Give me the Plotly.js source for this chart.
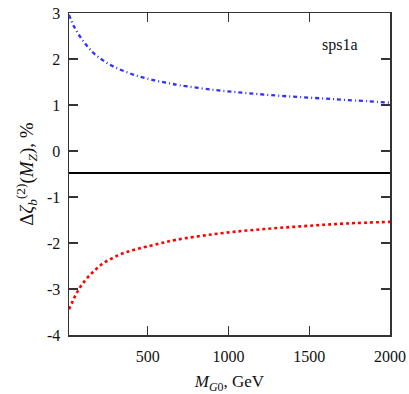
<!DOCTYPE html>
<html>
<head>
<meta charset="utf-8">
<script src="https://cdn.plot.ly/plotly-3.0.1.min.js"></script>
<style>html,body{margin:0;padding:0;background:#fff;}#plot{width:409px;height:394px;}</style>
</head>
<body>
<div id="plot"></div>
<script>
// Data
const blueX = [12, 41, 78, 120, 167, 223, 285, 357, 425, 491, 563, 636, 698, 904, 1111, 1317, 1524, 1731, 2000];
const blueY = [2.96, 2.72, 2.50, 2.30, 2.12, 1.97, 1.84, 1.73, 1.645, 1.58, 1.52, 1.47, 1.43, 1.33, 1.26, 1.20, 1.155, 1.11, 1.05];
const redX = [12, 33, 53, 78, 99, 130, 161, 198, 233, 275, 315, 357, 398, 446, 491, 574, 677, 904, 1111, 1317, 1524, 1731, 2000];
const redY = [-3.44, -3.28, -3.13, -2.98, -2.87, -2.74, -2.63, -2.51, -2.42, -2.34, -2.27, -2.21, -2.165, -2.12, -2.08, -2.01, -1.93, -1.81, -1.73, -1.67, -1.62, -1.575, -1.54];
const blackX = [12, 500, 1000, 1500, 2000];
const blackY = [-0.478, -0.478, -0.478, -0.478, -0.478];
const xTicks = [500, 1000, 1500, 2000];
const yTicks = [-4, -3, -2, -1, 0, 1, 2, 3];
const annotationText = "sps1a";

const serif = "Liberation Serif";

const traces = [
  {x: blueX, y: blueY, mode: 'lines', line: {color: '#3030ff', width: 2.3, dash: '4px,3px,1px,3px', shape: 'spline'}, hoverinfo: 'skip'},
  {x: redX, y: redY, mode: 'lines', line: {color: '#ff0000', width: 2.6, dash: '3px,3px', shape: 'spline'}, hoverinfo: 'skip'},
  {x: blackX, y: blackY, mode: 'lines', line: {color: '#000000', width: 2.2}, hoverinfo: 'skip'}
];

const axisCommon = {
  showgrid: false, zeroline: false, showline: true, mirror: 'ticks',
  linecolor: '#333', linewidth: 1.5, ticks: 'inside', ticklen: 9, tickwidth: 1.2, tickcolor: '#333',
  tickfont: {family: serif, size: 16, color: '#111'}
};

const layout = {
  width: 409, height: 394,
  margin: {l: 69, r: 19, t: 13, b: 59},
  paper_bgcolor: '#fff', plot_bgcolor: '#fff',
  showlegend: false,
  font: {family: serif, color: '#111'},
  xaxis: Object.assign({}, axisCommon, {
    range: [12, 2000], tickvals: xTicks, ticktext: xTicks.map(String), ticklabelstandoff: 6,
    title: {text: '<i>M</i><sub><i>G</i>0</sub>, GeV', font: {family: serif, size: 17, color: '#111'}, standoff: 12}
  }),
  yaxis: Object.assign({}, axisCommon, {
    range: [-4, 3], tickvals: yTicks, ticktext: yTicks.map(String), ticklabelstandoff: 4,
    title: {text: 'Δ<i>ζ</i><sub><i>b</i></sub><sup>(2)</sup>(<i>M</i><sub><i>Z</i></sub>), %', font: {family: serif, size: 19, color: '#111'}, standoff: 8}
  }),
  annotations: [{
    text: annotationText, xref: 'paper', yref: 'paper', x: 0.905, y: 0.9, xanchor: 'right', yanchor: 'middle',
    showarrow: false, font: {family: serif, size: 16, color: '#111'}
  }]
};

Plotly.newPlot('plot', traces, layout, {displayModeBar: false, staticPlot: true});
</script>
</body>
</html>
